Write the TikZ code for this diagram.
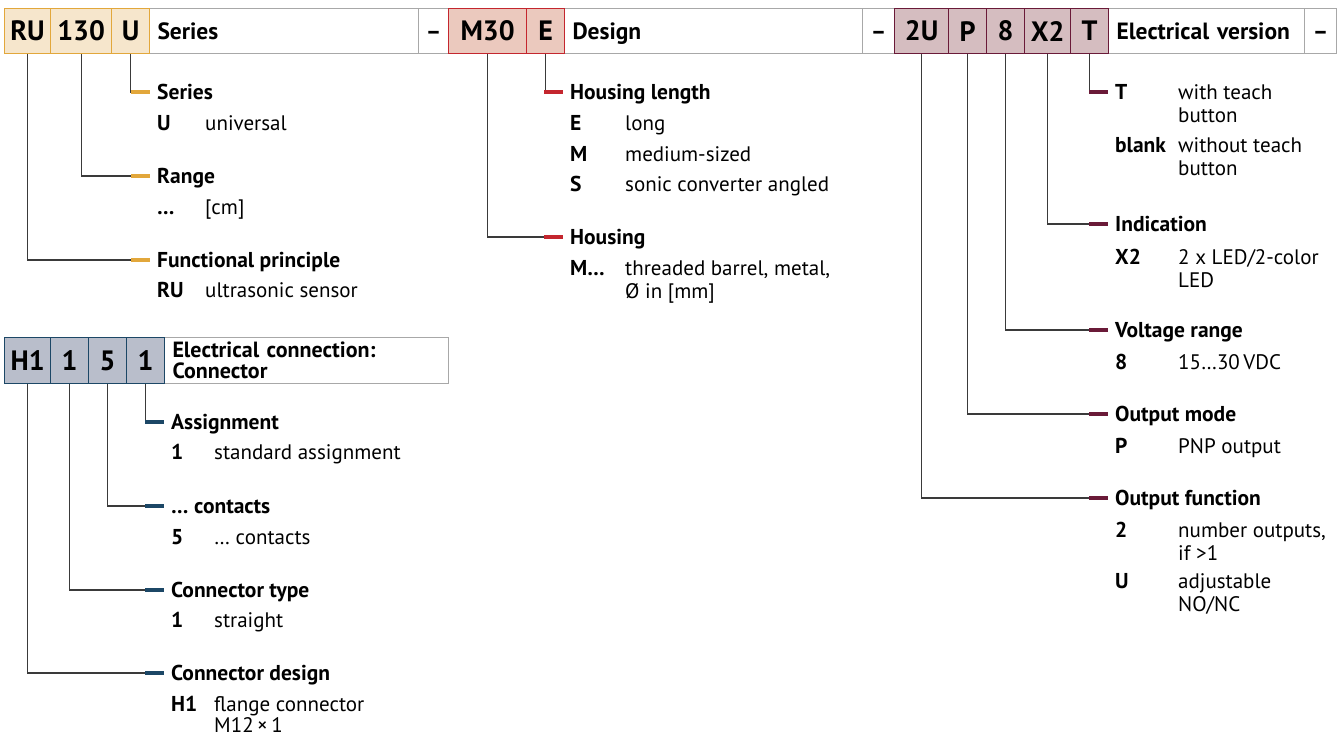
\documentclass[tikz,border=0pt]{standalone}
\usepackage{fontspec}
\setmainfont{PT Sans}
\usetikzlibrary{positioning,calc}

\definecolor{serFill}{HTML}{F6E6CC}
\definecolor{serLine}{HTML}{E2A73B}
\definecolor{desFill}{HTML}{EBC9BE}
\definecolor{desLine}{HTML}{C4262E}
\definecolor{eleFill}{HTML}{D5BDC0}
\definecolor{eleLine}{HTML}{6A1A38}
\definecolor{conFill}{HTML}{B9BECB}
\definecolor{conLine}{HTML}{1C4766}
\definecolor{boxGray}{HTML}{A8A8A8}
\definecolor{linkGray}{HTML}{3A3A3A}

\tikzset{
  code/.style={draw, line width=1.2pt, inner sep=0pt, minimum height=45pt,
    anchor=north west, font=\fontsize{28}{30}\selectfont\bfseries},
  serbox/.style={code, fill=serFill, draw=serLine},
  desbox/.style={code, fill=desFill, draw=desLine},
  elebox/.style={code, fill=eleFill, draw=eleLine},
  conbox/.style={code, fill=conFill, draw=conLine},
  labelbox/.style={draw=boxGray, fill=white, line width=1pt, inner xsep=8pt, inner ysep=0pt,
    minimum height=45pt, anchor=north west, align=left},
  headbox/.style={labelbox, text height=17pt, text depth=0pt,
    font=\fontsize{23.5}{25}\selectfont\bfseries},
  dashbox/.style={headbox, align=center, inner xsep=0pt},
  link/.style={draw=linkGray, line width=1.2pt},
  stub/.style={line width=3.5pt},
  title/.style={anchor=base west, inner sep=0pt, font=\fontsize{21.5}{23}\selectfont\bfseries},
  key/.style={title},
  val/.style={anchor=base west, inner sep=0pt, align=left, font=\fontsize{21}{23}\selectfont},
  val2/.style={val, yshift=-23pt},
}

\begin{document}
\begin{tikzpicture}[x=1pt,y=-1pt]
\useasboundingbox (0,0) rectangle (1341,737);

% type code, top row
\node[headbox, text width=253pt] (hSer) at (149,8) {Series};
\node[dashbox, minimum width=30pt] (d1) at (418,8) {–};
\node[headbox, text width=282pt] (hDes) at (564,8) {Design};
\node[dashbox, minimum width=32pt] (d2) at (862,8) {–};
\node[headbox, text width=180pt] (hEle) at (1108,8) {Electrical version};
\node[dashbox, minimum width=32pt] (d3) at (1304,8) {–};

\node[serbox, minimum width=46pt] (cRU) at (4,8) {RU};
\node[serbox, minimum width=61pt] (c130) at (50,8) {130};
\node[serbox, minimum width=38pt] (cU) at (111,8) {U};
\node[desbox, minimum width=78pt] (cM30) at (448,8) {M30};
\node[desbox, minimum width=38pt] (cE) at (526,8) {E};
\node[elebox, minimum width=54pt] (c2U) at (894,8) {2U};
\node[elebox, minimum width=38pt] (cP) at (948,8) {P};
\node[elebox, minimum width=38pt] (c8) at (986,8) {8};
\node[elebox, minimum width=46pt] (cX2) at (1024,8) {X2};
\node[elebox, minimum width=38pt] (cT) at (1070,8) {T};

% connector code
\node[labelbox, text width=268pt, minimum height=46pt, font=\fontsize{22}{20.5}\selectfont\bfseries]
  (hCon) at (164,337) {Electrical connection:\\Connector};
\node[conbox, minimum width=46pt, minimum height=46pt] (cH1) at (4,337) {H1};
\node[conbox, minimum width=38pt, minimum height=46pt] (cTyp) at (50,337) {1};
\node[conbox, minimum width=38pt, minimum height=46pt] (cCnt) at (88,337) {5};
\node[conbox, minimum width=38pt, minimum height=46pt] (cAss) at (126,337) {1};

% series
\node[title] (tSer) at (157,99) {Series};
\node[key] at (157,130) {U};
\node[val] at (205,130) {universal};
\node[title] (tRan) at (157,183) {Range};
\node[key] at (157,214) {…};
\node[val] at (205,214) {[cm]};
\node[title] (tFun) at (157,267) {Functional principle};
\node[key] at (157,297) {RU};
\node[val] at (205,297) {ultrasonic sensor};

% design
\node[title] (tLen) at (570,99) {Housing length};
\node[key] at (570,130) {E};
\node[val] at (625,130) {long};
\node[key] at (570,161) {M};
\node[val] at (625,161) {medium-sized};
\node[key] at (570,191) {S};
\node[val] at (625,191) {sonic converter angled};
\node[title] (tHou) at (570,244) {Housing};
\node[key] at (570,275) {M…};
\node[val2] at (625,275) {threaded barrel, metal,\\Ø in [mm]};

% electrical version
\node[key] (tTea) at (1115,99) {T};
\node[val2] at (1178,99) {with teach\\button};
\node[key] at (1115,152) {blank};
\node[val2] at (1178,152) {without teach\\button};
\node[title] (tInd) at (1115,231) {Indication};
\node[key] at (1115,264) {X2};
\node[val2] at (1178,264) {2 x LED/2-color\\LED};
\node[title] (tVol) at (1115,337) {Voltage range};
\node[key] at (1115,369) {8};
\node[val] at (1178,369) {15…30\,VDC};
\node[title] (tMod) at (1115,421) {Output mode};
\node[key] at (1115,453) {P};
\node[val] at (1178,453) {PNP output};
\node[title] (tOut) at (1115,505) {Output function};
\node[key] at (1115,537) {2};
\node[val2] at (1178,537) {number outputs,\\if >1};
\node[key] at (1115,588) {U};
\node[val2] at (1178,588) {adjustable\\NO/NC};

% connector
\node[title] (tAss) at (171,429) {Assignment};
\node[key] at (171,459) {1};
\node[val] at (214,459) {standard assignment};
\node[title] (tCnt) at (171,513) {… contacts};
\node[key] at (171,544) {5};
\node[val] at (214,544) {… contacts};
\node[title] (tTyp) at (171,597) {Connector type};
\node[key] at (171,627) {1};
\node[val] at (214,627) {straight};
\node[title] (tDsg) at (171,680) {Connector design};
\node[key] at (171,711) {H1};
\node[val, yshift=-21pt, font=\fontsize{21}{21}\selectfont] at (214,711) {flange connector\\M12\,×\,1};

% leader lines
\foreach \b/\t/\c in {cU/tSer/serLine, c130/tRan/serLine, cRU/tFun/serLine,
    cE/tLen/desLine, cM30/tHou/desLine,
    cT/tTea/eleLine, cX2/tInd/eleLine, c8/tVol/eleLine, cP/tMod/eleLine, c2U/tOut/eleLine,
    cAss/tAss/conLine, cCnt/tCnt/conLine, cTyp/tTyp/conLine, cH1/tDsg/conLine}
{
  \draw[link] (\b.south) |- ([xshift=-26pt,yshift=7pt]\t.base west);
  \draw[stub, \c] ([xshift=-26pt,yshift=7pt]\t.base west) -- ([xshift=-7pt,yshift=7pt]\t.base west);
}
\end{tikzpicture}
\end{document}
